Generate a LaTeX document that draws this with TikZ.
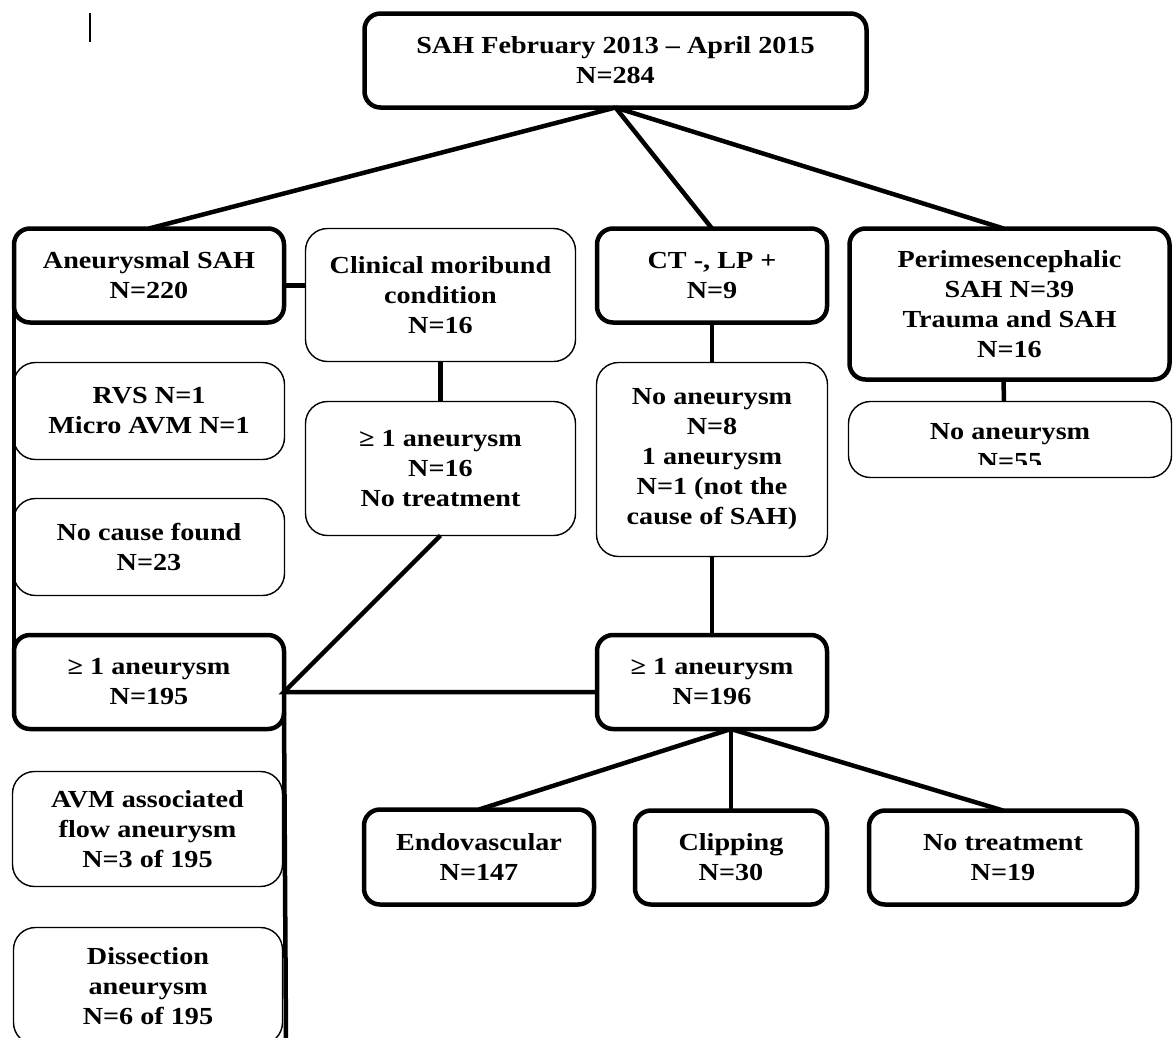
\documentclass[tikz,border=0pt]{standalone}
\usepackage{fontspec}
\setmainfont[FakeStretch=1.15]{Liberation Serif}

\tikzset{
  thickbox/.style={draw, line width=4.5pt, rounded corners=16pt, align=center,
    inner sep=0pt, outer sep=0pt, font=\fontsize{24.5}{30}\selectfont\bfseries},
  thinbox/.style={draw, line width=1.4pt, rounded corners=22pt, align=center,
    inner sep=0pt, outer sep=0pt, font=\fontsize{24.5}{30}\selectfont\bfseries},
  conn/.style={line width=4.5pt},
}

\begin{document}
\begin{tikzpicture}[x=1pt,y=-1pt]
  \path[use as bounding box, fill=white] (0,0) rectangle (1173,1037);
  \clip (0,0) rectangle (1173,1037);

  % stray mark top left
  \draw[line width=1.3pt] (90,13) -- (90,42);

  % top
  \node[thickbox, minimum width=502pt, minimum height=94pt] (sah) at (615.5,60.5) {SAH February 2013 -- April 2015\\N=284};

  % second row
  \node[thickbox, minimum width=270pt, minimum height=94pt] (aneur) at (149,275.5) {Aneurysmal SAH\\N=220};
  \node[thinbox, minimum width=270pt, minimum height=133pt] (moribund) at (440.5,295) {Clinical moribund\\condition\\N=16};
  \node[thickbox, minimum width=230pt, minimum height=94pt] (ctlp) at (712,275.5) {CT -, LP +\\N=9};
  \node[thickbox, minimum width=320pt, minimum height=151pt] (perim) at (1009.5,304) {Perimesencephalic\\SAH N=39\\Trauma and SAH\\N=16};

  % left column
  \node[thinbox, minimum width=271pt, minimum height=97pt] (rvs) at (149,411) {RVS N=1\\Micro AVM N=1};
  \node[thinbox, minimum width=271pt, minimum height=97pt] (nocause) at (149,547) {No cause found\\N=23};
  \node[thickbox, minimum width=270pt, minimum height=94pt] (one195) at (149,682) {≥ 1 aneurysm\\N=195};
  \node[thinbox, minimum width=270pt, minimum height=115pt] (avm) at (147.5,829) {AVM associated\\flow aneurysm\\N=3 of 195};
  \node[thinbox, minimum width=269pt, minimum height=117pt] (dissect) at (148,986) {Dissection\\aneurysm\\N=6 of 195};

  % middle
  \node[thinbox, minimum width=270pt, minimum height=134pt] (one16) at (440.5,468.5) {≥ 1 aneurysm\\N=16\\No treatment};
  \node[thinbox, minimum width=231pt, minimum height=194pt] (noan8) at (712,459.5) {No aneurysm\\N=8\\1 aneurysm\\N=1 (not the\\cause of SAH)};
  \node[thickbox, minimum width=230pt, minimum height=94pt] (one196) at (712,682) {≥ 1 aneurysm\\N=196};

  % right, text cut by the box
  \node[thinbox, minimum width=323pt, minimum height=76pt] (noan55) at (1010,439.5) {};
  \begin{scope}
    \clip (848,401) rectangle (1172,464);
    \node[thinbox, draw=none] (noan55txt) at (1010,447) {No aneurysm\\N=55};
  \end{scope}

  % treatment
  \node[thickbox, minimum width=230pt, minimum height=95pt] (endo) at (479,857) {Endovascular\\N=147};
  \node[thickbox, minimum width=192pt, minimum height=94pt] (clipping) at (731,857.5) {Clipping\\N=30};
  \node[thickbox, minimum width=268pt, minimum height=94pt] (notreat) at (1003,857.5) {No treatment\\N=19};

  % connectors
  \draw[conn] (sah.south) -- (aneur.north);
  \draw[conn] (sah.south) -- (ctlp.north);
  \draw[conn] (sah.south) -- ([xshift=-6pt]perim.north);
  \draw[conn] ([yshift=-10pt]aneur.east) -- ([yshift=-10pt]aneur.east -| moribund.west);
  \draw[conn] ([yshift=16pt]aneur.south west) -- ([yshift=-16pt]one195.north west);
  \coordinate (lowend) at (286,1040);
  \draw[conn] ([yshift=16pt]one195.south east) -- (lowend);
  \draw[conn] (moribund.south) -- (one16.north);
  \coordinate (junc) at ([yshift=-10pt]one195.east);
  \draw[conn] (one16.south) -- (junc) -- (junc -| one196.west);
  \draw[conn] (ctlp.south) -- (noan8.north);
  \draw[conn] (noan8.south) -- (one196.north);
  \draw[conn] ([xshift=-6pt]perim.south) -- ([xshift=-6pt]noan55.north);
  \coordinate (fork) at ([xshift=19pt]one196.south);
  \draw[conn] (fork) -- (endo.north);
  \draw[conn] (fork) -- (clipping.north);
  \draw[conn] (fork) -- (notreat.north);
\end{tikzpicture}
\end{document}
